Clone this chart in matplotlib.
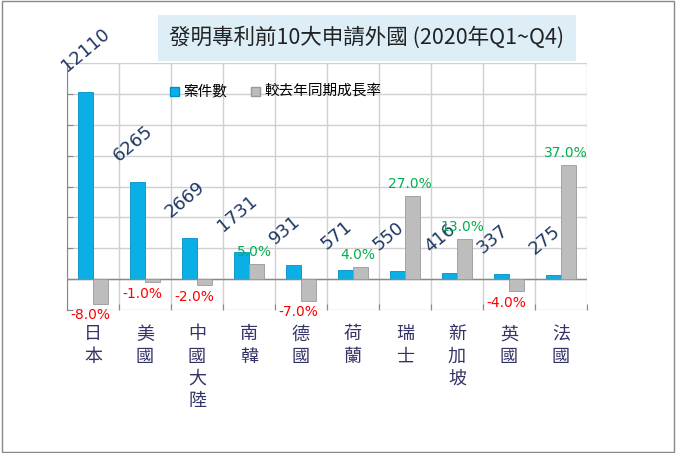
import matplotlib.pyplot as plt
import numpy as np
from matplotlib.patches import Rectangle

plt.rcParams['font.family'] = ['Noto Sans CJK TC', 'DejaVu Sans']

countries = ['日本', '美國', '中國大陸', '南韓', '德國', '荷蘭', '瑞士', '新加坡', '英國', '法國']
cases = [12110, 6265, 2669, 1731, 931, 571, 550, 416, 337, 275]
growth = [-8.0, -1.0, -2.0, 5.0, -7.0, 4.0, 27.0, 13.0, -4.0, 37.0]

fig = plt.figure(figsize=(6.76, 4.53), dpi=100)
fig.patches.append(Rectangle((0.003, 0.003), 0.994, 0.994, transform=fig.transFigure,
                             fill=False, edgecolor='#888888', lw=1))

# 繪圖區 (像素換算)
W, H = 676, 453
ax = fig.add_axes([67 / W, 1 - 310 / H, 520 / W, 247 / H])
ax2 = ax.twinx()
ax.set_ylim(-2000, 14000)
ax2.set_ylim(-10, 70)
ax.set_xlim(0, 10)

x = np.arange(10)
bw = 0.29
ax.bar(x + 0.5 - bw / 2, cases, bw, color='#0AAFE6', edgecolor='#0090C8', lw=0.6, zorder=3)
ax2.bar(x + 0.5 + bw / 2, growth, bw, color='#BDBDBD', edgecolor='#9A9A9A', lw=0.6, zorder=3)

ax.set_yticks(np.arange(-2000, 14001, 2000))
ax.set_xticks(np.arange(0, 11))
ax.grid(True, color='#D0D0D0', lw=1, zorder=0)
ax.set_yticklabels([])
ax.set_xticklabels([])
ax.tick_params(length=4, color='#888888', direction='in')
ax.axhline(0, color='#888888', lw=1, zorder=4)
ax2.set_yticks([])
for a in (ax, ax2):
    for s in a.spines.values():
        s.set_visible(False)
ax.spines['left'].set_visible(True)
ax.spines['left'].set_color('#888888')

for i in range(10):
    ax.text(x[i] + 0.5 - bw - 0.17, cases[i] + 1100, str(cases[i]), rotation=40,
            ha='left', va='bottom', fontsize=13, color='#1F3864', family='DejaVu Sans',
            rotation_mode='anchor', zorder=5)
    g = growth[i]
    if g >= 0:
        ax2.text(x[i] + 0.5 + bw / 2 - 0.05, g + 1.5, '%.1f%%' % g, ha='center', va='bottom',
                 fontsize=10, color='#00B050', family='DejaVu Sans', zorder=5)
    else:
        ax2.text(x[i] + 0.5 - 0.05, g - 1.5, '%.1f%%' % g, ha='center', va='top',
                 fontsize=10, color='#FF0000', family='DejaVu Sans', zorder=5)
    ax.text(x[i] + 0.5, -3000, '\n'.join(countries[i]), ha='center', va='top',
            fontsize=13, color='#333366', linespacing=1.3)

# 標題
fig.text(367 / W, 1 - 38 / H, '發明專利前10大申請外國 (2020年Q1~Q4)', ha='center', va='center',
         fontsize=15.5, color='#222222',
         bbox=dict(boxstyle='square,pad=0.55', fc='#DDEEF6', ec='none'))

# 圖例
fig.patches.append(Rectangle((170 / W, 1 - 96 / H), 9 / W, 9 / H, transform=fig.transFigure,
                             fc='#0AAFE6', ec='#0090C8'))
fig.text(183 / W, 1 - 91 / H, '案件數', va='center', fontsize=10.5)
fig.patches.append(Rectangle((251 / W, 1 - 96 / H), 9 / W, 9 / H, transform=fig.transFigure,
                             fc='#BDBDBD', ec='#9A9A9A'))
fig.text(264 / W, 1 - 91 / H, '較去年同期成長率', va='center', fontsize=10.5)

fig.savefig('out.png', dpi=100)
